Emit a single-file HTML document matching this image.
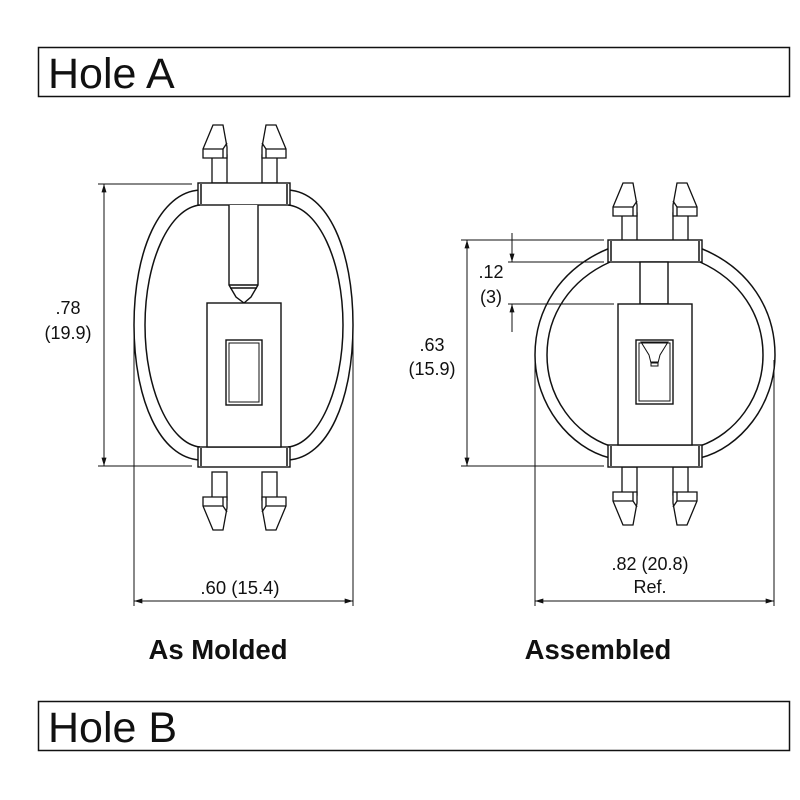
<!DOCTYPE html>
<html><head><meta charset="utf-8"><style>
html,body{margin:0;padding:0;background:#fff;}
svg{display:block;}
text{font-family:"Liberation Sans",sans-serif;fill:#111;}
</style></head><body>
<svg width="800" height="800" viewBox="0 0 800 800" xmlns="http://www.w3.org/2000/svg">
<defs>
<g id="prong" fill="#fff" stroke="#111" stroke-width="1.3">
  <rect x="0" y="30" width="15" height="28"/>
  <polygon points="1,0 11,0 15,22 15,33 -9,33 -9,24"/>
  <line x1="-9" y1="24" x2="11" y2="24"/>
  <line x1="11" y1="24" x2="15" y2="18"/>
  <line x1="11" y1="24" x2="11" y2="33"/>
</g>
<marker id="ar" viewBox="0 0 10 6" refX="10" refY="3" markerWidth="12" markerHeight="5" orient="auto-start-reverse" markerUnits="userSpaceOnUse">
  <path d="M0,0 L10,3 L0,6 z" fill="#111"/>
</marker>
</defs>

<rect x="38.5" y="47.5" width="751" height="49" fill="none" stroke="#111" stroke-width="1.5"/>
<text x="48" y="88" font-size="43">Hole A</text>
<rect x="38.5" y="701.5" width="751" height="49" fill="none" stroke="#111" stroke-width="1.5"/>
<text x="48" y="742" font-size="43">Hole B</text>

<!-- LEFT FIGURE -->
<g fill="none" stroke="#111" stroke-width="1.5">
  <path d="M200,190 C160,192 134,250 134,325 C134,400 160,458 200,460"/>
  <path d="M200,205 C170,208 145,260 145,325 C145,390 170,444 200,447"/>
  <path d="M288,190 C328,192 353,250 353,325 C353,400 328,458 288,460"/>
  <path d="M288,205 C318,208 343,260 343,325 C343,390 318,444 288,447"/>
</g>
<g transform="translate(212,125)"><use href="#prong"/></g>
<g transform="translate(277,125) scale(-1,1)"><use href="#prong"/></g>
<g transform="translate(212,530) scale(1,-1)"><use href="#prong"/></g>
<g transform="translate(277,530) scale(-1,-1)"><use href="#prong"/></g>
<g fill="#fff" stroke="#111" stroke-width="1.4">
  <rect x="198" y="183" width="92" height="22"/>
  <rect x="198" y="447" width="92" height="20"/>
  <path d="M229,205 L229,285 L236,297 L244,303 L251,297 L258,285 L258,205"/>
  <line x1="229" y1="285" x2="258" y2="285"/>
  <line x1="230" y1="288" x2="257" y2="288"/>
  <rect x="207" y="303" width="74" height="144"/>
  <rect x="226" y="340" width="36" height="65"/>
  <rect x="229" y="343" width="30" height="59" fill="none" stroke-width="1"/>
</g>
<g stroke="#111" stroke-width="1.5"><line x1="201" y1="184" x2="201" y2="204"/><line x1="287" y1="184" x2="287" y2="204"/><line x1="201" y1="448" x2="201" y2="466"/><line x1="287" y1="448" x2="287" y2="466"/></g>

<g stroke="#111" stroke-width="1" fill="none">
  <line x1="98" y1="184" x2="192" y2="184"/>
  <line x1="98" y1="466" x2="192" y2="466"/>
  <line x1="104" y1="184" x2="104" y2="466" marker-start="url(#ar)" marker-end="url(#ar)"/>
  <line x1="134" y1="330" x2="134" y2="606"/>
  <line x1="353" y1="330" x2="353" y2="606"/>
  <line x1="134" y1="601" x2="353" y2="601" marker-start="url(#ar)" marker-end="url(#ar)"/>
</g>
<text x="68" y="314" font-size="18" text-anchor="middle">.78</text>
<text x="68" y="339" font-size="18" text-anchor="middle">(19.9)</text>
<text x="240" y="594" font-size="18.5" text-anchor="middle">.60 (15.4)</text>
<text x="218" y="659" font-size="27.5" font-weight="bold" text-anchor="middle">As Molded</text>

<!-- RIGHT FIGURE -->
<g fill="none" stroke="#111" stroke-width="1.5">
  <path d="M610,248 C560,268 535,310 535,355 C535,405 570,448 610,458"/>
  <path d="M610,262 C570,280 547,315 547,355 C547,398 575,434 610,446"/>
  <path d="M700,248 C750,268 775,310 775,355 C775,405 740,448 700,458"/>
  <path d="M700,262 C740,280 763,315 763,355 C763,398 735,434 700,446"/>
</g>
<g transform="translate(622,183)"><use href="#prong"/></g>
<g transform="translate(688,183) scale(-1,1)"><use href="#prong"/></g>
<g transform="translate(622,525) scale(1,-1)"><use href="#prong"/></g>
<g transform="translate(688,525) scale(-1,-1)"><use href="#prong"/></g>
<g fill="#fff" stroke="#111" stroke-width="1.4">
  <rect x="608" y="240" width="94" height="22"/>
  <rect x="608" y="445" width="94" height="22"/>
  <rect x="640" y="262" width="28" height="42"/>
  <rect x="618" y="304" width="74" height="141"/>
  <rect x="636" y="340" width="37" height="64"/>
  <rect x="639" y="343" width="31" height="58" fill="none" stroke-width="1"/>
  <path d="M641,342 L668,342 L660,355 L658,363 L651,363 L649,355 Z" fill="none" stroke-width="1"/>
  <rect x="651" y="362" width="7" height="4" fill="none" stroke-width="1"/>
</g>
<g stroke="#111" stroke-width="1.5"><line x1="611" y1="241" x2="611" y2="261"/><line x1="699" y1="241" x2="699" y2="261"/><line x1="611" y1="446" x2="611" y2="466"/><line x1="699" y1="446" x2="699" y2="466"/></g>

<g stroke="#111" stroke-width="1" fill="none">
  <line x1="461" y1="240" x2="604" y2="240"/>
  <line x1="508" y1="262" x2="604" y2="262"/>
  <line x1="508" y1="304" x2="614" y2="304"/>
  <line x1="461" y1="466" x2="604" y2="466"/>
  <line x1="467" y1="240" x2="467" y2="466" marker-start="url(#ar)" marker-end="url(#ar)"/>
  <line x1="512" y1="233" x2="512" y2="262" marker-end="url(#ar)"/>
  <line x1="512" y1="332" x2="512" y2="304" marker-end="url(#ar)"/>
  <line x1="535" y1="360" x2="535" y2="606"/>
  <line x1="774" y1="360" x2="774" y2="606"/>
  <line x1="535" y1="601" x2="774" y2="601" marker-start="url(#ar)" marker-end="url(#ar)"/>
</g>
<text x="491" y="278" font-size="18" text-anchor="middle">.12</text>
<text x="491" y="303" font-size="18" text-anchor="middle">(3)</text>
<text x="432" y="351" font-size="18" text-anchor="middle">.63</text>
<text x="432" y="375" font-size="18" text-anchor="middle">(15.9)</text>
<text x="650" y="570" font-size="18" text-anchor="middle">.82 (20.8)</text>
<text x="650" y="593" font-size="18" text-anchor="middle">Ref.</text>
<text x="598" y="659" font-size="27.5" font-weight="bold" text-anchor="middle">Assembled</text>
</svg>
</body></html>
